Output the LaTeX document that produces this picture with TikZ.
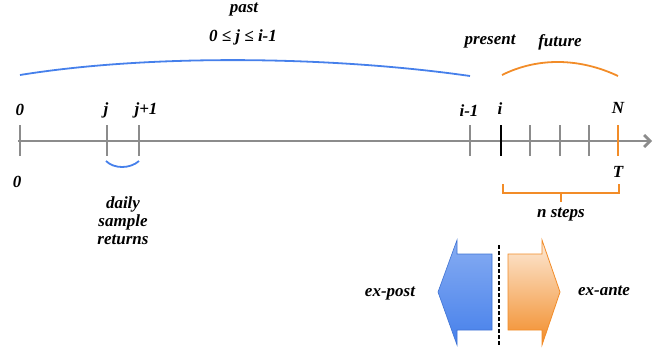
\documentclass[tikz,border=0pt]{standalone}
\usepackage{fontspec}
\setmainfont{Liberation Serif}
\usepackage{tikz}
\usetikzlibrary{arrows.meta}
\definecolor{axisgray}{RGB}{140,140,140}
\definecolor{pastblue}{RGB}{70,128,235}
\definecolor{futorange}{RGB}{242,140,40}

\begin{document}
\begin{tikzpicture}[x=1pt, y=-1pt, font=\bfseries\itshape\fontsize{17}{19}\selectfont,
    lbl/.style={inner sep=1pt},
    tick/.style={axisgray, line width=2.8pt}]
    \useasboundingbox (0,0) rectangle (663,354);
    % Time axis
    \coordinate (start) at (18,141);
    \coordinate (tip) at (652,141);
    \draw[axisgray, line width=2.8pt, -{Straight Barb[length=6pt,width=12pt]}] (start) -- (tip);
    \foreach \x/\n in {20/t0, 107/tj, 139/tjj, 470/tim, 530/ta, 560/tb, 589/tc}
      \draw[tick] (\x,125) coordinate (\n) -- (\x,156) coordinate (\n b);
    \draw[black, line width=2.8pt] (501,125) coordinate (ti) -- (501,156);
    \draw[futorange, line width=2.8pt] (618,125) coordinate (tN) -- (618,156) coordinate (tNb);
    % Tick labels
    \node[lbl] (l0) at (20,110) {0};
    \node[lbl] (lj) at (106,110) {j};
    \node[lbl] (ljj) at (146,110) {j+1};
    \node[lbl] (lim) at (469,111) {i-1};
    \node[lbl] (li) at (500,109) {i};
    \node[lbl] (lN) at (618,108) {N};
    \node[lbl] (l0b) at (17,182) {0};
    \node[lbl] (lT) at (618,172) {T};
    % Past
    \node[lbl] (past) at (244,10) {past};
    \node[lbl] (range) at (243,37) {0 ≤ j ≤ i-1};
    \coordinate (pa) at (20,75);
    \coordinate (pb) at (470,76);
    \draw[pastblue, line width=1.8pt] (pa) .. controls (150,54) and (330,56) .. (pb);
    % Present and future
    \node[lbl] (present) at (490,42) {present};
    \node[lbl] (future) at (560,42) {future};
    \coordinate (fa) at (502,75);
    \coordinate (fb) at (618,76);
    \draw[futorange, line width=1.8pt] (fa) .. controls (538,57) and (580,58) .. (fb);
    % Daily returns
    \coordinate (da) at (106,161);
    \coordinate (db) at (139,161);
    \draw[pastblue, line width=1.8pt] (da) .. controls (114,169) and (130,169) .. (db);
    \node[lbl, align=center, text width=80pt] (daily) at (123,221) {daily\\[-1pt]sample\\[-1pt]returns};
    % n steps
    \coordinate (ba) at (503,184);
    \coordinate (bb) at (619,184);
    \draw[futorange, line width=1.8pt] (ba) -- (503,193) -- (619,193) -- (bb);
    \draw[futorange, line width=1.8pt] (561,193) -- (561,202);
    \node[lbl] (steps) at (561,215) {n steps};
    % ex-post / ex-ante
    \draw[pastblue!90!black, line width=0.6pt, top color=pastblue!65!white, bottom color=pastblue]
      (492,254) -- (457,254) -- (457,240) -- (438,292) -- (457,345) -- (457,330) -- (492,330) -- cycle;
    \draw[futorange, line width=0.8pt, top color=futorange!18!white, bottom color=futorange]
      (508,254) -- (542,254) -- (542,240) -- (560,292) -- (542,345) -- (542,330) -- (508,330) -- cycle;
    \draw[black, line width=1.8pt, dash pattern=on 3.5pt off 2.5pt] (499,245) -- (499,345);
    \node[lbl] (expost) at (390,294) {ex-post};
    \node[lbl] (exante) at (604,291) {ex-ante};
\end{tikzpicture}
\end{document}
